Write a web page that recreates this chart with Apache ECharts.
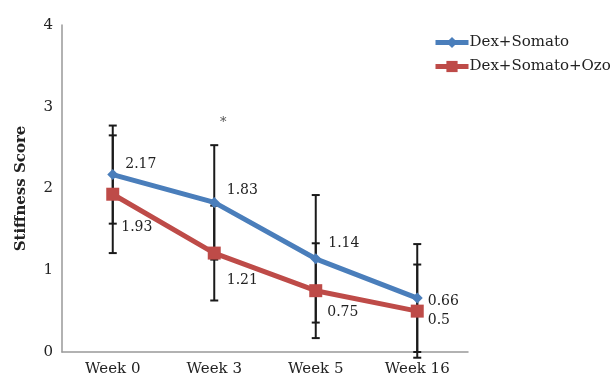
<!DOCTYPE html>
<html><head><meta charset="utf-8">
<script src="https://cdn.jsdelivr.net/npm/echarts@6/dist/echarts.min.js"></script>
<style>html,body{margin:0;padding:0;background:#fff}#c{width:616px;height:380px}</style>
</head><body><div id="c"></div>
<script>
var categories = ['Week 0', 'Week 3', 'Week 5', 'Week 16'];
var seriesNames = ['Dex+Somato', 'Dex+Somato+Ozo'];
var blueMean = [2.17, 1.83, 1.14, 0.66];
var blueErr = [0.60, 0.70, 0.78, 0.66];
var redMean = [1.93, 1.21, 0.75, 0.5];
var redErr = [0.72, 0.58, 0.58, 0.57];
var yTicks = [0, 1, 2, 3, 4];
var starMarks = [['Week 3', 2.8]];

var FONT = '"DejaVu Serif", "Liberation Serif", serif';
var BLUE = '#4A7EBB', RED = '#BE4B48';

function errData(mean, err) {
  return mean.map(function (m, i) { return [i, m - err[i], m + err[i]]; });
}
function errSeries(mean, err, z) {
  return {
    type: 'custom', silent: true, z: z,
    data: errData(mean, err),
    renderItem: function (params, api) {
      var lo = api.coord([api.value(0), api.value(1)]);
      var hi = api.coord([api.value(0), api.value(2)]);
      var w = 4;
      var st = { stroke: '#1a1a1a', lineWidth: 2 };
      return { type: 'group', children: [
        { type: 'line', shape: { x1: hi[0], y1: hi[1], x2: lo[0], y2: lo[1] }, style: st },
        { type: 'line', shape: { x1: hi[0] - w, y1: hi[1], x2: hi[0] + w, y2: hi[1] }, style: st },
        { type: 'line', shape: { x1: lo[0] - w, y1: lo[1], x2: lo[0] + w, y2: lo[1] }, style: st }
      ]};
    }
  };
}
var blueLabelOffsets = [[2, -10], [2, -12], [2, -15], [0, 3]];
var redLabelOffsets = [[-3, 33], [1, 27], [0, 22], [-1, 9]];
function labelled(mean, offs) {
  return mean.map(function (v, i) {
    return { value: v, label: { show: true, position: 'right', offset: offs[i] } };
  });
}

var chart = echarts.init(document.getElementById('c'));
chart.setOption({
  animation: false,
  textStyle: { fontFamily: FONT },
  grid: { left: 62, right: 148, top: 25, bottom: 28, containLabel: false },
  legend: {
    top: 30, left: 428, orient: 'vertical', itemGap: 9,
    itemWidth: 33, itemHeight: 14,
    lineStyle: { width: 5 },
    textStyle: { fontFamily: FONT, fontSize: 15, color: '#222', padding: [0, 0, 0, -4] },
    data: seriesNames
  },
  xAxis: {
    type: 'category', data: categories, boundaryGap: true,
    axisLine: { lineStyle: { color: '#999', width: 1.5 } },
    axisTick: { show: false },
    axisLabel: { color: '#222', fontSize: 15, fontFamily: FONT, margin: 10 }
  },
  yAxis: {
    type: 'value', min: yTicks[0], max: yTicks[yTicks.length - 1], interval: 1,
    name: 'Stiffness Score', nameLocation: 'middle', nameGap: 33,
    nameTextStyle: { fontSize: 15, fontWeight: 'bold', color: '#222', fontFamily: FONT },
    axisLine: { show: true, lineStyle: { color: '#999', width: 1.5 } },
    axisTick: { show: false },
    splitLine: { show: false },
    axisLabel: { color: '#222', fontSize: 15, fontFamily: FONT, margin: 9 }
  },
  series: [
    errSeries(blueMean, blueErr, 1),
    errSeries(redMean, redErr, 1),
    {
      name: seriesNames[1], type: 'line', z: 3,
      data: labelled(redMean, redLabelOffsets),
      symbol: 'rect', symbolSize: 13,
      itemStyle: { color: RED },
      lineStyle: { color: RED, width: 5 },
      label: { color: '#222', fontSize: 14, fontFamily: FONT }
    },
    {
      name: seriesNames[0], type: 'line', z: 4,
      data: labelled(blueMean, blueLabelOffsets),
      symbol: 'diamond', symbolSize: 11,
      itemStyle: { color: BLUE },
      lineStyle: { color: BLUE, width: 5 },
      label: { color: '#222', fontSize: 14, fontFamily: FONT }
    },
    {
      type: 'scatter', symbolSize: 0, silent: true,
      data: starMarks.map(function (d) { return [categories.indexOf(d[0]), d[1]]; }),
      label: { show: true, formatter: '*', position: 'inside', offset: [9, 0], color: '#222', fontSize: 13, fontFamily: FONT }
    }
  ]
});
</script></body></html>
